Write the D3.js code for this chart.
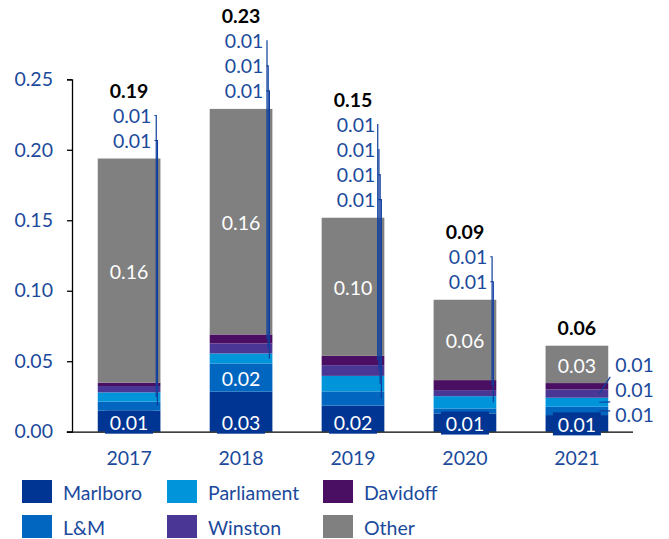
<!DOCTYPE html>
<html><head><meta charset="utf-8">
<script src="https://cdn.jsdelivr.net/npm/d3@7"></script>
<style>
html,body{margin:0;padding:0;background:#fff;}
svg text{font-family:Lato,"Open Sans",sans-serif;}
</style></head>
<body><svg id="chart" width="669" height="539"></svg>
<script>
const years = ["2017","2018","2019","2020","2021"];
const marlboro   = [0.0149, 0.0284, 0.0185, 0.0130, 0.0118];
const lm         = [0.0065, 0.0200, 0.0101, 0.0035, 0.0059];
const parliament = [0.0065, 0.0071, 0.0110, 0.0087, 0.0064];
const winston    = [0.0045, 0.0071, 0.0076, 0.0043, 0.0059];
const davidoff   = [0.0024, 0.0064, 0.0066, 0.0071, 0.0045];
const other      = [0.1590, 0.1600, 0.0980, 0.0570, 0.0265];
const seriesNames = ["Marlboro","L&M","Parliament","Winston","Davidoff","Other"];
const seriesColors = ["#003594","#0066C0","#0095DA","#4A3694","#4A0E62","#808080"];
const yTicks = [0,0.05,0.10,0.15,0.20,0.25];
const legendOrder = ["Marlboro","Parliament","Davidoff","L&M","Winston","Other"];

const valuesBySeries = [marlboro, lm, parliament, winston, davidoff, other];
const rows = years.map((y,i)=>{const r={year:y}; seriesNames.forEach((s,k)=>r[s]=valuesBySeries[k][i]); return r;});
const fmt = d3.format(".2f");
const svg = d3.select("#chart");
const x = d3.scaleBand().domain(years).range([72,634]).paddingInner(0.44).paddingOuter(0.23);
const y = d3.scaleLinear().domain([0,0.25]).range([431.7,79.3]);
const color = d3.scaleOrdinal().domain(seriesNames).range(seriesColors);
const stack = d3.stack().keys(seriesNames)(rows);
const textBlue = "#1B4A9C";
const FS = "19.5px";

// bars
stack.forEach(layer=>{
  svg.append("g").selectAll("rect").data(layer).join("rect")
    .attr("x", d=>x(d.data.year)).attr("width", x.bandwidth())
    .attr("y", d=>y(d[1])).attr("height", d=>y(d[0])-y(d[1]))
    .attr("fill", color(layer.key));
});

// axes
const yAxis = svg.append("g").attr("transform","translate(72,0)")
  .call(d3.axisLeft(y).tickValues(yTicks).tickFormat(fmt).tickSize(5).tickPadding(14));
yAxis.select(".domain").attr("stroke","#000").attr("stroke-width",1.3);
yAxis.selectAll(".tick line").attr("stroke","#000").attr("stroke-width",1.3);
yAxis.selectAll("text").attr("fill",textBlue).style("font-size",FS);

const xAxis = svg.append("g").attr("transform",`translate(0,${y(0)})`)
  .call(d3.axisBottom(x).tickSize(0).tickPadding(19));
xAxis.select(".domain").attr("d",`M66.7,0.5H633`).attr("stroke","#000").attr("stroke-width",1.3);
xAxis.selectAll("text").attr("fill",textBlue).style("font-size",FS);

// labels
const lbl = svg.append("g");
rows.forEach((r,i)=>{
  const x0 = x(r.year), bw = x.bandwidth(), cx = x0 + bw/2, right = x0 + bw;
  const outside = [];
  stack.forEach(layer=>{
    const d = layer[i], v = d[1]-d[0];
    const top = y(d[1]), bot = y(d[0]), h = bot-top, mid = (top+bot)/2;
    const key = layer.key;
    const inside = key==="Marlboro" || key==="Other" || h>20;
    const t = fmt(v);
    if (inside) {
      let ty = mid + 1;
      if (key==="Marlboro") {
        ty = Math.max(ty, y(0)-9);
        lbl.append("rect").attr("x",cx-24).attr("y",ty-12).attr("width",48).attr("height",23).attr("fill",color(key));
      }
      lbl.append("text").attr("x",cx).attr("y",ty).attr("text-anchor","middle")
        .attr("dominant-baseline","central").attr("fill","#fff").style("font-size",FS).text(t);
    } else if (t !== "0.00") {
      outside.push({t, mid});
    }
  });
  const barTop = y(d3.sum(seriesNames, s=>r[s]));
  const total = fmt(d3.sum(seriesNames, s=>r[s]));
  if (i < rows.length-1) {
    outside.forEach((o,k)=>{
      const ly = barTop - 18 - 25*k;
      const lx = right - 9;
      lbl.append("text").attr("x",lx).attr("y",ly).attr("text-anchor","end")
        .attr("dominant-baseline","central").attr("fill",textBlue).style("font-size",FS).text(o.t);
      const lineX = right - 3 - k*1.2;
      lbl.append("path").attr("d",`M${lx+3},${ly}H${lineX}V${o.mid}`)
        .attr("fill","none").attr("stroke","#0F3E9E").attr("stroke-width",1.2);
    });
    lbl.append("text").attr("x",cx).attr("y",barTop-18-25*outside.length).attr("text-anchor","middle")
      .attr("dominant-baseline","central").attr("fill","#000").style("font-size",FS).style("font-weight","bold").text(total);
  } else {
    const bottomY = outside.length ? outside[0].mid + 4 : 0;
    outside.forEach((o,k)=>{
      const ly = bottomY - 25*k;
      const lx = right + 7;
      lbl.append("text").attr("x",lx).attr("y",ly).attr("text-anchor","start")
        .attr("dominant-baseline","central").attr("fill",textBlue).style("font-size",FS).text(o.t);
      const ey = Math.max(ly-12, Math.min(ly+12, o.mid));
      lbl.append("path").attr("d",`M${right-9},${o.mid}L${lx-5},${ey}`)
        .attr("fill","none").attr("stroke","#0F3E9E").attr("stroke-width",1.2);
    });
    lbl.append("text").attr("x",cx).attr("y",barTop-18).attr("text-anchor","middle")
      .attr("dominant-baseline","central").attr("fill","#000").style("font-size",FS).style("font-weight","bold").text(total);
  }
});

// legend
const legX = [22,167,323];
const legY = [480,515];
legendOrder.forEach((name,k)=>{
  const col = k%3, row = Math.floor(k/3);
  const g = svg.append("g").attr("transform",`translate(${legX[col]},${legY[row]})`);
  g.append("rect").attr("width",30).attr("height",23).attr("fill",color(name));
  g.append("text").attr("x",41).attr("y",12).attr("dominant-baseline","central")
    .attr("fill",textBlue).style("font-size",FS).text(name);
});
</script></body></html>
